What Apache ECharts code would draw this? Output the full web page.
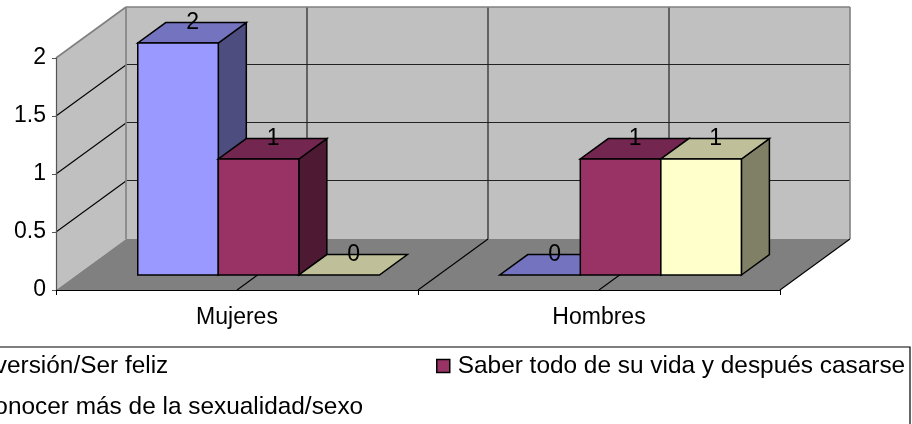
<!DOCTYPE html>
<html lang="es">
<head>
    <meta charset="UTF-8">
    <title>Mujeres / Hombres</title>
    <style>
        html, body { margin: 0; padding: 0; background: #fff; overflow: hidden; }
    </style>
</head>
<body>
<div id="main" style="width: 912px;height:424px;"></div>
<script src="https://cdn.jsdelivr.net/npm/echarts@6/dist/echarts.min.js"></script>
<script>
var categories = ['Mujeres', 'Hombres'];
var yTicks = [0, 0.5, 1, 1.5, 2];
var seriesNames = ['Diversión/Ser feliz', 'Saber todo de su vida y después casarse', 'Conocer más de la sexualidad/sexo'];
var diversion = [2, 0];
var saberTodo = [1, 1];
var conocerMas = [0, 1];
var seriesValues = [diversion, saberTodo, conocerMas];

// front, top and side colour of each series
var frontColors = ['#9999ff', '#993366', '#ffffcc'];
var topColors = ['#7373bf', '#732650', '#bfbf99'];
var sideColors = ['#4d4d80', '#4d1933', '#808066'];

var FONT = '"Liberation Sans", Arial, sans-serif';
var FONT_SIZE = 23;
var LEGEND_FONT_SIZE = 24.4;

// fake 3d: how far the back wall is shifted from the front plane, in px
var DEPTH_X = 70;
var DEPTH_Y = 51;
var BAR_NEAR = 0.294;
var BAR_DEPTH = 0.4;
var BAR_WIDTH = 0.2225;

function line(x1, y1, x2, y2, color, width) {
    return {
        type: 'line',
        shape: { x1: x1, y1: y1, x2: x2, y2: y2 },
        style: { stroke: color, lineWidth: width || 1 }
    };
}

function poly(points, fill, stroke, width) {
    return {
        type: 'polygon',
        shape: { points: points },
        style: { fill: fill, stroke: stroke, lineWidth: width || 0, lineJoin: 'miter' }
    };
}

// walls, floor and the gridlines on them
function renderWalls(params, api) {
    var cs = params.coordSys;
    var left = cs.x, right = cs.x + cs.width;
    var y0 = api.coord([0, 0])[1];
    var yMax = api.coord([0, yTicks[yTicks.length - 1]])[1];
    var kids = [];

    kids.push(poly([[left, y0], [left + DEPTH_X, y0 - DEPTH_Y], [left + DEPTH_X, yMax - DEPTH_Y], [left, yMax]], '#c0c0c0'));
    kids.push(poly([[left + DEPTH_X, y0 - DEPTH_Y], [right + DEPTH_X, y0 - DEPTH_Y], [right + DEPTH_X, yMax - DEPTH_Y], [left + DEPTH_X, yMax - DEPTH_Y]], '#c0c0c0'));
    kids.push(poly([[left, y0], [right, y0], [right + DEPTH_X, y0 - DEPTH_Y], [left + DEPTH_X, y0 - DEPTH_Y]], '#808080'));

    yTicks.forEach(function (t) {
        if (t === 0) return;
        var y = api.coord([0, t])[1];
        if (t !== yTicks[yTicks.length - 1]) {
            kids.push(line(left, y, left + DEPTH_X, y - DEPTH_Y, '#000', 1.1));
            kids.push(line(left + DEPTH_X, y - DEPTH_Y - 0.5, right + DEPTH_X, y - DEPTH_Y - 0.5, '#222', 1.2));
        }
    });

    // a gridline every half category, back wall plus floor
    for (var i = 1; i < categories.length * 2; i++) {
        var x = left + cs.width * i / (categories.length * 2);
        kids.push(line(x + DEPTH_X, yMax - DEPTH_Y, x + DEPTH_X, y0 - DEPTH_Y, '#222', 1.2));
        kids.push(line(x, y0, x + DEPTH_X, y0 - DEPTH_Y, '#000', 1.1));
    }

    // wall edges
    kids.push(line(left + DEPTH_X, yMax - DEPTH_Y, right + DEPTH_X, yMax - DEPTH_Y, '#808080', 1.6));
    kids.push(line(left, yMax, left + DEPTH_X, yMax - DEPTH_Y, '#808080', 1.6));
    kids.push(line(left + DEPTH_X, yMax - DEPTH_Y, left + DEPTH_X, y0 - DEPTH_Y, '#808080', 1.6));
    kids.push(line(right + DEPTH_X, yMax - DEPTH_Y, right + DEPTH_X, y0 - DEPTH_Y, '#808080', 1.6));
    kids.push(line(right, y0, right + DEPTH_X, y0 - DEPTH_Y, '#000', 1.1));

    return { type: 'group', children: kids };
}

function barRenderer(s) {
    return function (params, api) {
        var val = api.value(1);
        var p = api.coord([api.value(0), val]);
        var base = api.coord([api.value(0), 0])[1];
        var catW = api.size([1, 0])[0];
        var w = catW * BAR_WIDTH;
        var nearX = DEPTH_X * BAR_NEAR, nearY = DEPTH_Y * BAR_NEAR;
        var dx = DEPTH_X * BAR_DEPTH, dy = DEPTH_Y * BAR_DEPTH;
        var x1 = p[0] + nearX + 1 - w * 1.5 + w * s;
        var x2 = x1 + w;
        var yTop = p[1] - nearY;
        var yBot = base - nearY;
        var kids = [];
        var border = 1.5;

        if (val > 0) {
            kids.push(poly([[x2, yBot], [x2 + dx, yBot - dy], [x2 + dx, yTop - dy], [x2, yTop]], sideColors[s], '#000', border));
        }
        kids.push(poly([[x1, yTop], [x2, yTop], [x2 + dx, yTop - dy], [x1 + dx, yTop - dy]], topColors[s], '#000', border));
        if (val > 0) {
            kids.push(poly([[x1, yTop], [x2, yTop], [x2, yBot], [x1, yBot]], frontColors[s], '#000', border));
        }
        kids.push({
            type: 'text',
            z2: 20,
            style: {
                text: String(val),
                x: (x1 + x2) / 2 + 14.5,
                y: yTop - 20.5,
                align: 'center',
                verticalAlign: 'middle',
                fill: '#000',
                font: FONT_SIZE + 'px ' + FONT
            }
        });
        return { type: 'group', children: kids };
    };
}

var series = [{
    type: 'custom',
    name: 'walls',
    z: 1,
    silent: true,
    data: [[0, 0]],
    encode: { x: 0, y: 1 },
    renderItem: renderWalls
}];

seriesNames.forEach(function (name, s) {
    series.push({
        type: 'custom',
        name: name,
        z: 3 + s,
        itemStyle: { color: frontColors[s] },
        data: seriesValues[s].map(function (v, c) { return [c, v]; }),
        encode: { x: 0, y: 1 },
        renderItem: barRenderer(s)
    });
});

function legendAt(name, left, top) {
    return {
        data: [{ name: name, icon: 'rect' }],
        left: left,
        top: top,
        padding: 0,
        itemWidth: 13,
        itemHeight: 13,
        itemGap: 0,
        selectedMode: false,
        itemStyle: { borderColor: '#000', borderWidth: 1.5 },
        textStyle: { color: '#000', fontFamily: FONT, fontSize: LEGEND_FONT_SIZE, padding: [0, 0, 0, 3] }
    };
}

var myChart = echarts.init(document.getElementById('main'), null, { renderer: 'canvas' });

var option = {
    animation: false,
    backgroundColor: '#fff',
    grid: { left: 56, right: 132, top: 58, bottom: 134, containLabel: false },
    xAxis: {
        type: 'category',
        data: categories,
        z: 6,
        axisLine: { show: true, lineStyle: { color: '#000', width: 1.2 } },
        axisTick: { show: true, length: 5, lineStyle: { color: '#000' } },
        axisLabel: { color: '#000', fontFamily: FONT, fontSize: FONT_SIZE, margin: 16 },
        splitLine: { show: false }
    },
    yAxis: {
        type: 'value',
        min: 0,
        max: 2,
        interval: 0.5,
        z: 6,
        axisLine: { show: true, lineStyle: { color: '#555', width: 1.2 } },
        axisTick: { show: true, length: 4, lineStyle: { color: '#555' } },
        axisLabel: { color: '#000', fontFamily: FONT, fontSize: FONT_SIZE, margin: 10, padding: [3, 0, 0, 0] },
        splitLine: { show: false }
    },
    legend: [
        legendAt(seriesNames[0], -50, 354),
        legendAt(seriesNames[1], 436, 354),
        legendAt(seriesNames[2], -45, 395)
    ],
    graphic: [{
        type: 'rect',
        shape: { x: -10, y: 347, width: 920, height: 120 },
        style: { fill: 'none', stroke: '#000', lineWidth: 1.2 },
        silent: true
    }],
    series: series
};

myChart.setOption(option);
</script>
</body>
</html>
